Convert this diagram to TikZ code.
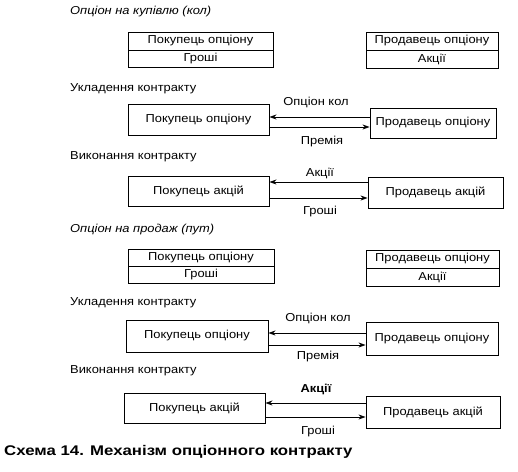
\documentclass[tikz,border=0pt]{standalone}
\usepackage{fontspec}
\setmainfont[FakeStretch=1.12]{Liberation Sans}
\newfontfamily\capfont[FakeStretch=1.2]{Liberation Sans}
\usetikzlibrary{arrows.meta}
\begin{document}
\begin{tikzpicture}[x=1pt,y=-1pt,
  box/.style={draw,line width=0.9pt,rectangle,inner sep=0pt,font=\fontsize{11.5}{13}\selectfont},
  lbl/.style={inner sep=0pt,font=\fontsize{11.5}{13}\selectfont},
  head/.style={inner sep=0pt,anchor=west,font=\fontsize{11.5}{13}\selectfont},
  ttl/.style={inner sep=0pt,anchor=west,font=\fontsize{11.5}{13}\selectfont\itshape},
  arr/.style={-{Stealth[length=7pt,width=5pt]},line width=0.8pt}]
\useasboundingbox (0,0) rectangle (518,471);
% --- call option
\node[ttl] (t1) at (70,12) {Опціон на купівлю (кол)};
\node[box,minimum width=145pt,minimum height=18pt] (s1lt) at (200.5,41) {Покупець опціону};
\node[box,minimum width=145pt,minimum height=17pt] (s1lb) at (200.5,58.5) {Гроші};
\node[box,minimum width=132pt,minimum height=18pt] (s1rt) at (432,41) {Продавець опціону};
\node[box,minimum width=132pt,minimum height=18pt] (s1rb) at (432,59) {Акції};
\node[head] (h1) at (70,89) {Укладення контракту};
\node[box,minimum width=141pt,minimum height=31pt] (l1) at (198.5,119.5) {Покупець опціону};
\node[box,minimum width=126pt,minimum height=30pt] (r1) at (433,123) {Продавець опціону};
\draw[arr] ([yshift=6pt]r1.west) -- ([yshift=2.5pt]l1.east);
\draw[arr] ([yshift=-7.5pt]l1.east) -- ([yshift=-4pt]r1.west);
\node[lbl] (a1) at (316,102) {Опціон кол};
\node[lbl] (a2) at (322,142) {Премія};
\node[head] (h2) at (70,157) {Виконання контракту};
\node[box,minimum width=141pt,minimum height=30pt] (l2) at (198.5,191) {Покупець акцій};
\node[box,minimum width=135pt,minimum height=31pt] (r2) at (435.5,192.5) {Продавець акцій};
\draw[arr] ([yshift=10.5pt]r2.west) -- ([yshift=9pt]l2.east);
\draw[arr] ([yshift=-7pt]l2.east) -- ([yshift=-5.5pt]r2.west);
\node[lbl] (a3) at (320,173) {Акції};
\node[lbl] (a4) at (320,212) {Гроші};
% --- put option
\node[ttl] (t2) at (70,230) {Опціон на продаж (пут)};
\node[box,minimum width=146pt,minimum height=17pt] (s2lt) at (201,257.5) {Покупець опціону};
\node[box,minimum width=146pt,minimum height=17pt] (s2lb) at (201,274.5) {Гроші};
\node[box,minimum width=133pt,minimum height=18pt] (s2rt) at (432.5,259) {Продавець опціону};
\node[box,minimum width=133pt,minimum height=18pt] (s2rb) at (432.5,277) {Акції};
\node[head] (h3) at (70,303) {Укладення контракту};
\node[box,minimum width=142pt,minimum height=32pt] (l3) at (197,336) {Покупець опціону};
\node[box,minimum width=132pt,minimum height=33pt] (r3) at (432,338.5) {Продавець опціону};
\draw[arr] ([yshift=5.5pt]r3.west) -- ([yshift=3pt]l3.east);
\draw[arr] ([yshift=-9pt]l3.east) -- ([yshift=-6.5pt]r3.west);
\node[lbl] (a5) at (318,318) {Опціон кол};
\node[lbl] (a6) at (318,357) {Премія};
\node[head] (h4) at (70,371) {Виконання контракту};
\node[box,minimum width=141pt,minimum height=30pt] (l4) at (194.5,408) {Покупець акцій};
\node[box,minimum width=134pt,minimum height=32pt] (r4) at (433,412) {Продавець акцій};
\draw[arr] ([yshift=9pt]r4.west) -- ([yshift=5pt]l4.east);
\draw[arr] ([yshift=-9pt]l4.east) -- ([yshift=-5pt]r4.west);
\node[lbl,font=\fontsize{11.5}{13}\selectfont\bfseries] (a7) at (316,389) {Акції};
\node[lbl] (a8) at (318,432) {Гроші};
\node[inner sep=0pt,anchor=west,font=\capfont\fontsize{14}{16}\selectfont\bfseries] (cap) at (4,452) {Схема 14. Механізм опціонного контракту};
\end{tikzpicture}
\end{document}
